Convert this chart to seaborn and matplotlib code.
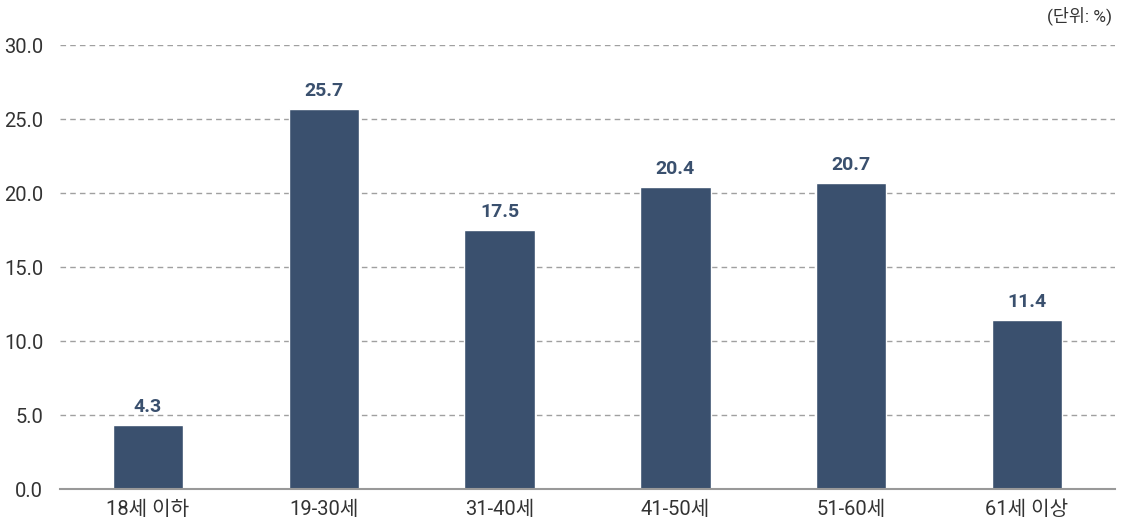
import seaborn as sns
import matplotlib.pyplot as plt
import pandas as pd

# data
ages = ["18세 이하", "19-30세", "31-40세", "41-50세", "51-60세", "61세 이상"]
shares = [4.3, 25.7, 17.5, 20.4, 20.7, 11.4]
y_ticks = [0, 5, 10, 15, 20, 25, 30]

bar_color = "#3a506e"

sns.set_theme(style="white")
plt.rcParams['font.family'] = ['Roboto', 'Noto Sans CJK KR', 'DejaVu Sans']

df = pd.DataFrame({"age": ages, "share": shares})

fig = plt.figure(figsize=(11.21, 5.27), dpi=100)
ax = fig.add_axes([0.0535, 0.0721, 0.9411, 0.8425])

sns.barplot(data=df, x="age", y="share", color=bar_color, saturation=1,
            width=0.4, ax=ax)

ax.set_xlim(-0.5, len(ages) - 0.5)
ax.set_ylim(0, 30)
ax.set_yticks(y_ticks)
ax.set_yticklabels([f"{t:.1f}" for t in y_ticks])
ax.yaxis.grid(True, linestyle=(0, (4, 3)), color="#a0a0a0", linewidth=1)
ax.set_axisbelow(True)

for s in ["top", "right", "left"]:
    ax.spines[s].set_visible(False)
ax.spines["bottom"].set_color("#999999")
ax.spines["bottom"].set_linewidth(1.5)

ax.tick_params(axis="both", length=0, labelsize=14.5, colors="#333333")
ax.tick_params(axis="x", pad=8)
ax.tick_params(axis="y", pad=12)
ax.set_xlabel("")
ax.set_ylabel("")

for i, v in enumerate(shares):
    ax.text(i, v + 0.6, f"{v}", ha="center", va="bottom", fontsize=14,
            fontweight="bold", color=bar_color)

fig.text(0.992, 0.952, "(단위: %)", ha="right", va="bottom", fontsize=12.5,
         color="#333333")

fig.savefig("out.png", dpi=100)
